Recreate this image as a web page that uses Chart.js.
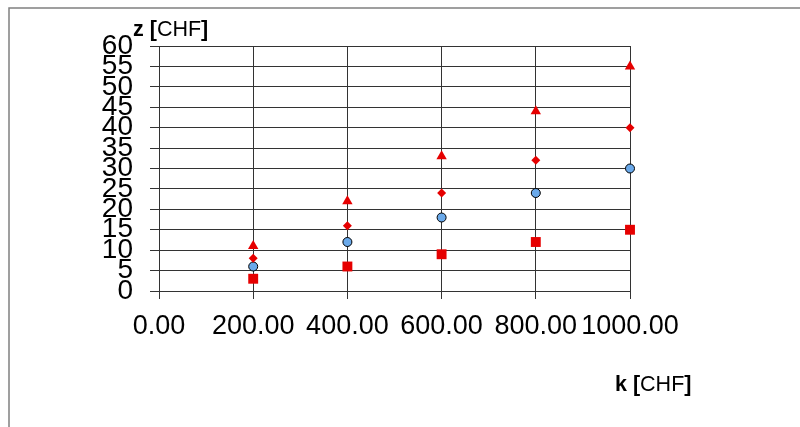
<!DOCTYPE html>
<html>
<head>
<meta charset="utf-8">
<script src="https://cdn.jsdelivr.net/npm/chart.js@4/dist/chart.umd.min.js"></script>
<style>
  html, body { margin: 0; padding: 0; background: #fff; }
  #wrap { width: 800px; height: 427px; }
</style>
</head>
<body>
<div id="wrap"><canvas id="chart" width="800" height="427"></canvas></div>
<script>
// ── Data ─────────────────────────────────────────────────────
const kValues   = [200, 400, 600, 800, 1000];
const zTriangle = [11, 22, 33, 44, 55];
const zDiamond  = [8, 16, 24, 32, 40];
const zCircle   = [6, 12, 18, 24, 30];
const zSquare   = [3, 6, 9, 12, 15];

const xTicks = [0, 200, 400, 600, 800, 1000];
const yTicks = [0, 5, 10, 15, 20, 25, 30, 35, 40, 45, 50, 55, 60];

const RED  = '#e60000';
const BLUE = '#6aa9ea';
const GRID = '#333333';
const FONT = "'Liberation Sans', Arial, sans-serif";

const pts = arr => kValues.map((k, i) => ({ x: k, y: arr[i] }));

// ── Frame + axis titles (mixed bold / regular) ───────────────
const decor = {
  id: 'decor',
  beforeDraw(chart) {
    const c = chart.ctx;
    c.save();
    c.fillStyle = '#fff';
    c.fillRect(0, 0, chart.width, chart.height);
    c.strokeStyle = '#808080';
    c.lineWidth = 1.5;
    c.strokeRect(9, 8, 900, 600);
    c.restore();
  },
  afterDraw(chart) {
    const c = chart.ctx;
    const parts = (letter) => [
      [letter + ' ', 'bold'], ['[', 'bold'], ['CHF', 'normal'], [']', 'bold']
    ];
    const write = (x, y, list) => {
      c.save();
      c.fillStyle = '#000';
      c.textBaseline = 'alphabetic';
      list.forEach(([t, w]) => {
        c.font = `${w} 21.5px ${FONT}`;
        c.fillText(t, x, y);
        x += c.measureText(t).width;
      });
      c.restore();
    };
    write(133, 36, parts('z'));
    write(615, 391, parts('k'));
  }
};

new Chart(document.getElementById('chart'), {
  type: 'scatter',
  data: {
    datasets: [
      { label: 'tri',  data: pts(zTriangle), pointStyle: 'triangle', pointRadius: 6,   backgroundColor: RED,  borderColor: RED,  borderWidth: 0, clip: false },
      { label: 'dia',  data: pts(zDiamond),  pointStyle: 'rectRot',  pointRadius: 4.5, backgroundColor: RED,  borderColor: RED,  borderWidth: 0, clip: false },
      { label: 'circ', data: pts(zCircle),   pointStyle: 'circle',   pointRadius: 4.5, backgroundColor: BLUE, borderColor: '#000', borderWidth: 1, clip: false },
      { label: 'sq',   data: pts(zSquare),   pointStyle: 'rect',     pointRadius: 7,   backgroundColor: RED,  borderColor: RED,  borderWidth: 0, clip: false }
    ]
  },
  options: {
    responsive: false,
    animation: false,
    layout: { padding: { left: 0, top: 46, right: 170, bottom: 0 } },
    plugins: { legend: { display: false }, tooltip: { enabled: false } },
    scales: {
      x: {
        type: 'linear', min: 0, max: 1000,
        afterBuildTicks: s => { s.ticks = xTicks.map(v => ({ value: v })); },
        afterFit: s => { s.height = 427 - 291; },
        grid: { color: GRID, lineWidth: 1, tickLength: 8 },
        border: { color: GRID, width: 1 },
        ticks: {
          autoSkip: false, maxRotation: 0, padding: 11, color: '#000',
          font: { family: FONT, size: 27 },
          callback: v => Number(v).toFixed(2)
        }
      },
      y: {
        type: 'linear', min: 0, max: 60,
        afterBuildTicks: s => { s.ticks = yTicks.map(v => ({ value: v })); },
        afterFit: s => { s.width = 159; },
        grid: { color: GRID, lineWidth: 1, tickLength: 9 },
        border: { color: GRID, width: 1 },
        ticks: {
          autoSkip: false, padding: 17, color: '#000',
          font: { family: FONT, size: 28 }
        }
      }
    }
  },
  plugins: [decor]
});
</script>
</body>
</html>
